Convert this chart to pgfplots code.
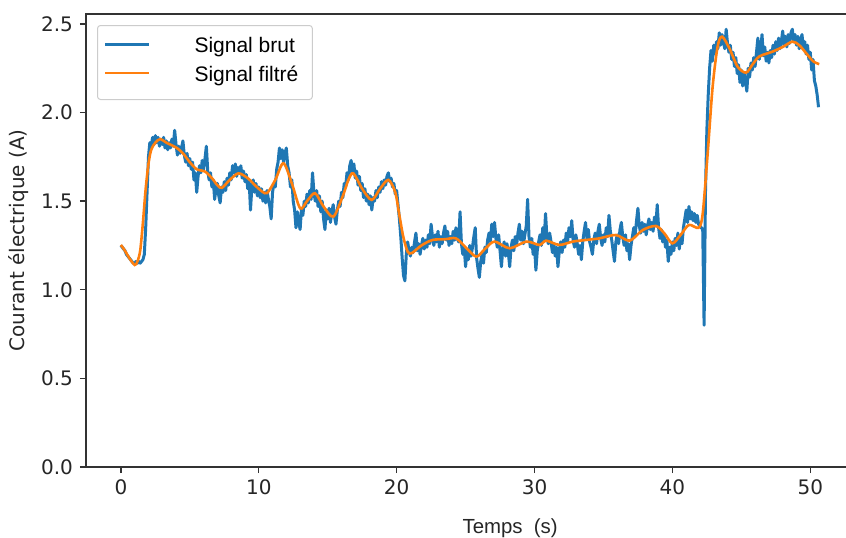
\documentclass[border=0pt]{standalone}
\usepackage{pgfplots}
\pgfplotsset{compat=1.18}
\usepackage{fontspec}
\setmainfont{DejaVu Sans}
\newfontfamily\lib{Liberation Sans}
\definecolor{mblue}{HTML}{1F77B4}
\definecolor{morange}{HTML}{FF7F0E}
\begin{document}
\begin{tikzpicture}
\begin{axis}[
  name=main,
  scale only axis,
  width=383.5pt, height=226.5pt,
  xmin=-2.53, xmax=53.1, ymin=0, ymax=2.556,
  xtick={0,10,20,30,40,50},
  ytick={0,0.5,1,1.5,2,2.5},
  yticklabel style={/pgf/number format/.cd, fixed, fixed zerofill, precision=1},
  /pgf/number format/assume math mode=true,
  tick label style={font=\fontsize{10}{12}\selectfont, color=black!85},
  tick align=outside,
  major tick length=3pt,
  tick style={line width=0.7pt, color=black!80},
  axis line style={line width=1pt, color=black!80},
  xtick pos=bottom, ytick pos=left,
  xlabel={\lib Temps~~(s)},
  xlabel style={at={(axis description cs:0.553,-0.1457)}, anchor=base, font=\fontsize{10.2}{12}\selectfont, color=black!85},
  ylabel={Courant électrique (A)},
  ylabel style={at={(axis description cs:-0.0874,0.5)}, anchor=center, font=\fontsize{10}{12}\selectfont, color=black!85},
  legend cell align=left,
  legend style={at={(axis description cs:0.01434,0.9757)}, anchor=north west,
    draw=black!20, line width=0.5pt, rounded corners=1.5pt, fill=white, fill opacity=0.8, text opacity=1,
    inner xsep=3pt, inner ysep=4pt,
    font=\lib\fontsize{10.5}{12}\selectfont,
    nodes={inner xsep=0pt, inner ysep=0pt, text height=9.5pt, text depth=5pt}},
  legend image code/.code={\draw[#1] (0pt,2pt) -- (22pt,2pt); \path (44pt,0pt);},
]
\addplot[mblue, line width=1.5pt, line join=round] coordinates {
(0,1.25)(0.1,1.24)(0.2,1.23)(0.3,1.22)(0.4,1.20)(0.5,1.19)(0.6,1.18)(0.7,1.17)(0.8,1.16)(0.9,1.15)
(1.0,1.15)(1.1,1.16)(1.2,1.15)(1.3,1.16)(1.4,1.15)(1.5,1.16)(1.6,1.17)(1.7,1.20)(1.8,1.35)(1.9,1.55)
(2.0,1.75)(2.1,1.83)(2.2,1.81)(2.3,1.86)(2.4,1.82)(2.5,1.87)(2.6,1.83)(2.7,1.86)(2.8,1.81)(2.9,1.85)
(3.0,1.82)(3.1,1.86)(3.2,1.80)(3.3,1.84)(3.4,1.79)(3.5,1.83)(3.6,1.80)(3.7,1.85)(3.8,1.81)(3.9,1.90)
(4.0,1.82)(4.1,1.76)(4.2,1.81)(4.3,1.77)(4.4,1.80)(4.5,1.84)(4.6,1.76)(4.7,1.72)(4.8,1.77)(4.9,1.70)
(5.0,1.74)(5.1,1.68)(5.2,1.72)(5.3,1.62)(5.4,1.66)(5.5,1.55)(5.6,1.64)(5.7,1.70)(5.8,1.66)(5.9,1.73)
(6.0,1.68)(6.1,1.74)(6.2,1.81)(6.3,1.67)(6.4,1.62)(6.5,1.66)(6.6,1.58)(6.7,1.62)(6.8,1.51)(6.9,1.57)
(7.0,1.60)(7.1,1.53)(7.2,1.49)(7.3,1.58)(7.4,1.55)(7.5,1.61)(7.6,1.56)(7.7,1.63)(7.8,1.59)(7.9,1.66)
(8.0,1.62)(8.1,1.70)(8.2,1.66)(8.3,1.71)(8.4,1.64)(8.5,1.69)(8.6,1.66)(8.7,1.70)(8.8,1.63)(8.9,1.67)
(9.0,1.61)(9.1,1.65)(9.2,1.57)(9.3,1.62)(9.4,1.45)(9.5,1.58)(9.6,1.62)(9.7,1.55)(9.8,1.60)(9.9,1.53)
(10.0,1.58)(10.1,1.52)(10.2,1.57)(10.3,1.50)(10.4,1.55)(10.5,1.49)(10.6,1.56)(10.7,1.51)(10.8,1.47)(10.9,1.40)
(11.0,1.55)(11.1,1.60)(11.2,1.58)(11.3,1.68)(11.4,1.72)(11.5,1.80)(11.6,1.74)(11.7,1.79)(11.8,1.72)(11.9,1.77)
(12.0,1.80)(12.1,1.70)(12.2,1.66)(12.3,1.58)(12.4,1.62)(12.5,1.50)(12.6,1.45)(12.7,1.35)(12.8,1.44)(12.9,1.38)
(13.0,1.34)(13.1,1.46)(13.2,1.42)(13.3,1.50)(13.4,1.47)(13.5,1.54)(13.6,1.49)(13.7,1.56)(13.8,1.51)(13.9,1.66)
(14.0,1.55)(14.1,1.50)(14.2,1.56)(14.3,1.47)(14.4,1.53)(14.5,1.44)(14.6,1.50)(14.7,1.40)(14.8,1.34)(14.9,1.45)
(15.0,1.40)(15.1,1.46)(15.2,1.38)(15.3,1.44)(15.4,1.48)(15.5,1.41)(15.6,1.37)(15.7,1.45)(15.8,1.50)(15.9,1.47)
(16.0,1.55)(16.1,1.52)(16.2,1.60)(16.3,1.58)(16.4,1.66)(16.5,1.62)(16.6,1.70)(16.7,1.73)(16.8,1.66)(16.9,1.71)
(17.0,1.63)(17.1,1.67)(17.2,1.59)(17.3,1.64)(17.4,1.56)(17.5,1.60)(17.6,1.52)(17.7,1.57)(17.8,1.50)(17.9,1.54)
(18.0,1.48)(18.1,1.53)(18.2,1.45)(18.3,1.52)(18.4,1.50)(18.5,1.56)(18.6,1.52)(18.7,1.58)(18.8,1.55)(18.9,1.61)
(19.0,1.57)(19.1,1.62)(19.2,1.59)(19.3,1.64)(19.4,1.66)(19.5,1.61)(19.6,1.63)(19.7,1.58)(19.8,1.60)(19.9,1.54)
(20.0,1.56)(20.1,1.48)(20.2,1.40)(20.3,1.30)(20.4,1.18)(20.5,1.08)(20.6,1.05)(20.7,1.20)(20.8,1.27)(20.9,1.22)
(21.0,1.19)(21.1,1.24)(21.2,1.21)(21.3,1.27)(21.4,1.32)(21.5,1.22)(21.6,1.26)(21.7,1.20)(21.8,1.25)(21.9,1.29)
(22.0,1.23)(22.1,1.28)(22.2,1.24)(22.3,1.31)(22.4,1.26)(22.5,1.37)(22.6,1.30)(22.7,1.25)(22.8,1.31)(22.9,1.27)
(23.0,1.33)(23.1,1.24)(23.2,1.30)(23.3,1.26)(23.4,1.32)(23.5,1.36)(23.6,1.28)(23.7,1.33)(23.8,1.25)(23.9,1.30)
(24.0,1.26)(24.1,1.33)(24.2,1.28)(24.3,1.35)(24.4,1.29)(24.5,1.27)(24.6,1.44)(24.7,1.26)(24.8,1.20)(24.9,1.24)
(25.0,1.13)(25.1,1.22)(25.2,1.17)(25.3,1.25)(25.4,1.19)(25.5,1.24)(25.6,1.30)(25.7,1.35)(25.8,1.18)(25.9,1.12)
(26.0,1.07)(26.1,1.16)(26.2,1.20)(26.3,1.15)(26.4,1.24)(26.5,1.21)(26.6,1.28)(26.7,1.32)(26.8,1.27)(26.9,1.37)
(27.0,1.30)(27.1,1.38)(27.2,1.29)(27.3,1.24)(27.4,1.31)(27.5,1.22)(27.6,1.13)(27.7,1.23)(27.8,1.27)(27.9,1.19)
(28.0,1.26)(28.1,1.21)(28.2,1.13)(28.3,1.24)(28.4,1.28)(28.5,1.22)(28.6,1.30)(28.7,1.25)(28.8,1.32)(28.9,1.37)
(29.0,1.28)(29.1,1.33)(29.2,1.26)(29.3,1.31)(29.4,1.36)(29.5,1.51)(29.6,1.30)(29.7,1.24)(29.8,1.29)(29.9,1.20)
(30.0,1.25)(30.1,1.11)(30.2,1.22)(30.3,1.27)(30.4,1.31)(30.5,1.25)(30.6,1.35)(30.7,1.28)(30.8,1.43)(30.9,1.30)
(31.0,1.26)(31.1,1.32)(31.2,1.27)(31.3,1.21)(31.4,1.26)(31.5,1.19)(31.6,1.24)(31.7,1.13)(31.8,1.22)(31.9,1.27)
(32.0,1.21)(32.1,1.28)(32.2,1.24)(32.3,1.32)(32.4,1.27)(32.5,1.35)(32.6,1.30)(32.7,1.39)(32.8,1.28)(32.9,1.24)
(33.0,1.31)(33.1,1.26)(33.2,1.20)(33.3,1.25)(33.4,1.17)(33.5,1.27)(33.6,1.33)(33.7,1.38)(33.8,1.29)(33.9,1.34)
(34.0,1.27)(34.1,1.24)(34.2,1.20)(34.3,1.28)(34.4,1.32)(34.5,1.26)(34.6,1.33)(34.7,1.37)(34.8,1.29)(34.9,1.25)
(35.0,1.31)(35.1,1.27)(35.2,1.35)(35.3,1.30)(35.4,1.42)(35.5,1.33)(35.6,1.28)(35.7,1.22)(35.8,1.16)(35.9,1.27)
(36.0,1.31)(36.1,1.26)(36.2,1.34)(36.3,1.38)(36.4,1.30)(36.5,1.25)(36.6,1.31)(36.7,1.22)(36.8,1.26)(36.9,1.17)
(37.0,1.25)(37.1,1.30)(37.2,1.35)(37.3,1.31)(37.4,1.39)(37.5,1.46)(37.6,1.36)(37.7,1.32)(37.8,1.38)(37.9,1.33)
(38.0,1.37)(38.1,1.31)(38.2,1.36)(38.3,1.40)(38.4,1.34)(38.5,1.38)(38.6,1.33)(38.7,1.41)(38.8,1.36)(38.9,1.48)
(39.0,1.35)(39.1,1.29)(39.2,1.34)(39.3,1.27)(39.4,1.31)(39.5,1.24)(39.6,1.28)(39.7,1.16)(39.8,1.24)(39.9,1.20)
(40.0,1.27)(40.1,1.22)(40.2,1.29)(40.3,1.25)(40.4,1.32)(40.5,1.23)(40.6,1.30)(40.7,1.26)(40.8,1.35)(40.9,1.40)
(41.0,1.45)(41.1,1.38)(41.2,1.47)(41.3,1.40)(41.4,1.44)(41.5,1.39)(41.6,1.43)(41.7,1.38)(41.8,1.42)(41.9,1.37)
(42.0,1.36)(42.1,1.35)(42.2,1.34)(42.3,0.80)(42.4,1.55)(42.5,1.90)(42.6,2.10)(42.7,2.25)(42.8,2.35)(42.9,2.29)
(43.0,2.38)(43.1,2.33)(43.2,2.40)(43.3,2.36)(43.4,2.45)(43.5,2.38)(43.6,2.44)(43.7,2.40)(43.8,2.36)(43.9,2.47)
(44.0,2.39)(44.1,2.34)(44.2,2.38)(44.3,2.30)(44.4,2.34)(44.5,2.26)(44.6,2.31)(44.7,2.22)(44.8,2.27)(44.9,2.17)
(45.0,2.24)(45.1,2.15)(45.2,2.22)(45.3,2.18)(45.4,2.12)(45.5,2.25)(45.6,2.20)(45.7,2.28)(45.8,2.24)(45.9,2.31)
(46.0,2.26)(46.1,2.34)(46.2,2.42)(46.3,2.30)(46.4,2.35)(46.5,2.44)(46.6,2.32)(46.7,2.37)(46.8,2.29)(46.9,2.34)
(47.0,2.28)(47.1,2.35)(47.2,2.31)(47.3,2.38)(47.4,2.33)(47.5,2.40)(47.6,2.35)(47.7,2.42)(47.8,2.36)(47.9,2.40)
(48.0,2.46)(48.1,2.38)(48.2,2.43)(48.3,2.37)(48.4,2.44)(48.5,2.39)(48.6,2.45)(48.7,2.47)(48.8,2.40)(48.9,2.44)
(49.0,2.38)(49.1,2.43)(49.2,2.36)(49.3,2.41)(49.4,2.44)(49.5,2.37)(49.6,2.40)(49.7,2.33)(49.8,2.38)(49.9,2.30)
(50.0,2.34)(50.1,2.24)(50.2,2.30)(50.3,2.18)(50.4,2.15)(50.5,2.10)(50.6,2.03)
};
\addlegendentry{Signal brut}
\addplot[morange, line width=1.3pt, smooth, tension=0.5] coordinates {
(0,1.253)(0.3,1.22)(0.6,1.18)(1.0,1.14)(1.2,1.16)(1.4,1.22)(1.6,1.38)(1.8,1.57)(2.0,1.71)(2.2,1.79)
(2.5,1.83)(2.85,1.85)(3.3,1.83)(3.7,1.815)(4.06,1.80)(4.5,1.77)(5.0,1.72)(5.5,1.68)(6.1,1.667)(6.6,1.63)
(7.0,1.59)(7.32,1.575)(7.9,1.62)(8.53,1.657)(9.2,1.63)(9.6,1.60)(10.0,1.57)(10.58,1.545)(11.2,1.62)(11.79,1.714)
(12.4,1.60)(13.0,1.46)(13.5,1.50)(14.08,1.545)(14.7,1.47)(15.41,1.413)(16.1,1.53)(16.5,1.62)(16.86,1.657)(17.5,1.57)
(18.19,1.507)(18.8,1.57)(19.4,1.62)(19.9,1.55)(20.2,1.42)(20.48,1.30)(20.8,1.215)(21.1,1.207)(21.8,1.25)(22.6,1.281)
(23.5,1.285)(24.3,1.29)(25.0,1.24)(25.77,1.187)(26.4,1.23)(27.1,1.272)(28.2,1.234)(29.4,1.272)(30.36,1.253)(30.85,1.277)
(31.8,1.253)(32.78,1.272)(33.75,1.281)(34.7,1.29)(35.9,1.309)(36.9,1.277)(37.85,1.337)(38.8,1.36)(39.4,1.32)(40.0,1.262)
(40.6,1.31)(41.2,1.366)(41.9,1.35)(42.2,1.43)(42.56,1.77)(42.92,2.146)(43.28,2.372)(43.6,2.428)(44.13,2.363)(44.73,2.259)
(45.34,2.225)(45.8,2.27)(46.3,2.316)(47.27,2.344)(48.0,2.37)(48.7,2.40)(49.2,2.38)(49.7,2.335)(50.2,2.29)(50.65,2.273)
};
\addlegendentry{Signal filtré\hspace*{4pt}}
\end{axis}
\pgfresetboundingbox
\useasboundingbox (main.south west) ++(-43pt,-35pt) rectangle ++(423pt,268.5pt);
\end{tikzpicture}
\end{document}
